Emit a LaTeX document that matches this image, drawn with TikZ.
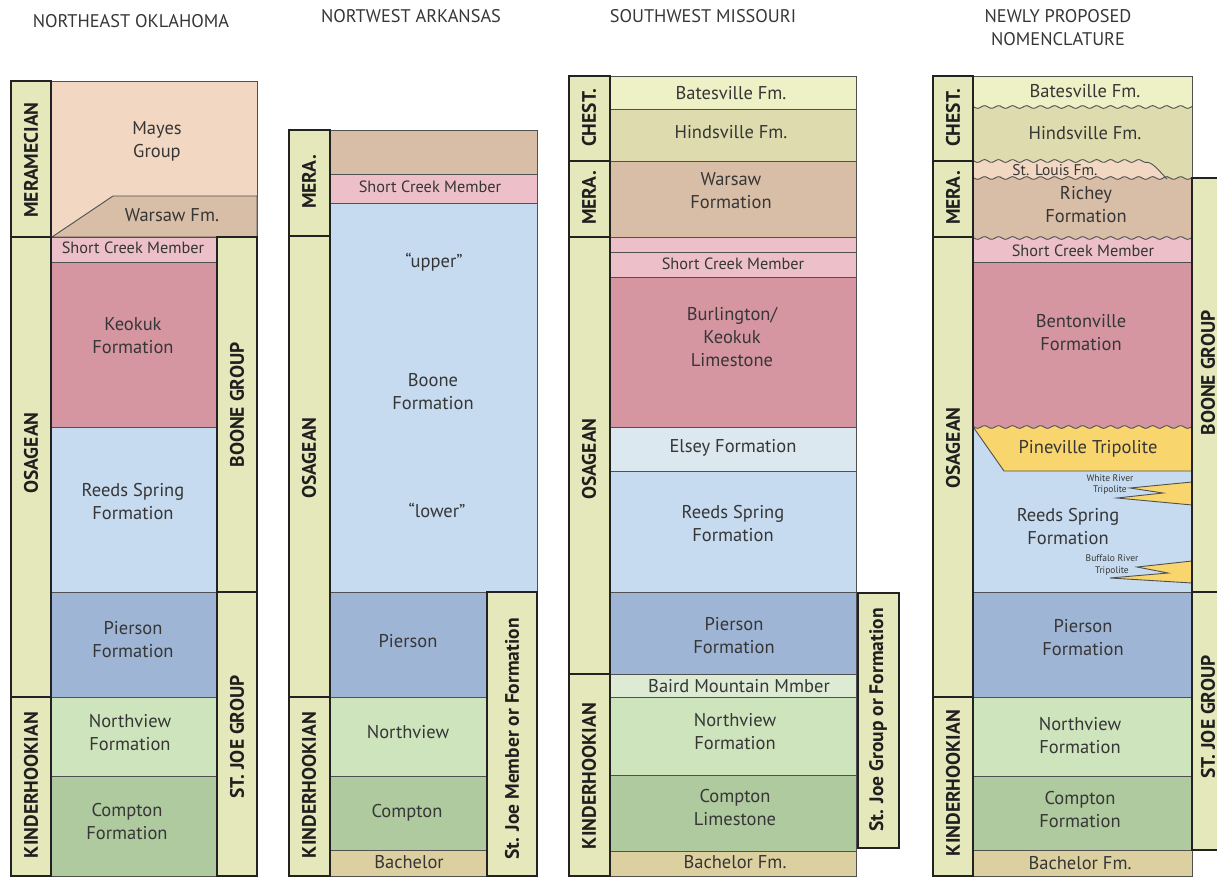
\documentclass[tikz,border=0pt]{standalone}
\usepackage{fontspec}
\setmainfont{PT Sans}
\definecolor{barfill}{HTML}{E5E8BB}
\definecolor{mayes}{HTML}{F2D8C3}
\definecolor{warsaw}{HTML}{D8BEA7}
\definecolor{shortc}{HTML}{EDBFC9}
\definecolor{keokuk}{HTML}{D596A2}
\definecolor{reeds}{HTML}{C6DBEF}
\definecolor{pierson}{HTML}{9FB5D5}
\definecolor{northv}{HTML}{CEE4BD}
\definecolor{compton}{HTML}{AECA9E}
\definecolor{bachelor}{HTML}{DDD0A0}
\definecolor{bates}{HTML}{EEF0C5}
\definecolor{hinds}{HTML}{DEDCAF}
\definecolor{elsey}{HTML}{DCE8F0}
\definecolor{baird}{HTML}{DDEBD5}
\definecolor{pine}{HTML}{F9D56E}
\definecolor{txt}{HTML}{363636}
\definecolor{linec}{HTML}{505050}
\definecolor{barline}{HTML}{222222}
\newcommand\lay[5]{\filldraw[lay,fill=#5] (#1,#3) rectangle (#2,#4);}
\newcommand\sbar[4]{\filldraw[sbarst] (#1,#3) rectangle (#2,#4);}
\tikzset{
  lay/.style={draw=linec,line width=0.9pt},
  sbarst/.style={draw=barline,line width=1.6pt,fill=barfill},
  lbl/.style={text=txt,font=\fontsize{18.5}{23}\selectfont,align=center,inner sep=0pt},
  sml/.style={text=txt,font=\fontsize{16.3}{19}\selectfont,inner sep=0pt},
  tiny/.style={text=txt,font=\fontsize{9.5}{11.5}\selectfont,align=center,inner sep=0pt},
  vlbl/.style={text=black!88,font=\bfseries\fontsize{19.5}{21}\selectfont,rotate=90,inner sep=0pt},
  hdr/.style={text=txt,font=\fontsize{18.3}{23}\selectfont,align=center,inner sep=0pt},
  wline/.style={draw=linec,line width=0.9pt},
  wvs/.style={samples=90,smooth}
}
\begin{document}
\begin{tikzpicture}[x=1pt,y=-1pt,declare function={wa(\t)=1.4*sin(25.7*(\t-960));}]
\useasboundingbox (0,0) rectangle (1217,877);
\clip (0,0) rectangle (1217,877);
% ---------------- Headers
\node[hdr] (h1) at (131,21) {NORTHEAST OKLAHOMA};
\node[hdr] (h2) at (411,16) {NORTWEST ARKANSAS};
\node[hdr] (h3) at (703,16) {SOUTHWEST MISSOURI};
\node[hdr] (h4) at (1058,28) {NEWLY PROPOSED\\NOMENCLATURE};

% ================= Column 1: NE Oklahoma
\lay{51}{257}{81}{237}{mayes}
\filldraw[lay,fill=warsaw] (52,237) -- (113,196) -- (257,196) -- (257,237) -- cycle;
\lay{51}{217}{237}{262}{shortc}
\lay{51}{217}{262}{427}{keokuk}
\lay{51}{217}{427}{592}{reeds}
\lay{51}{217}{592}{697}{pierson}
\lay{51}{217}{697}{776}{northv}
\lay{51}{217}{776}{876}{compton}
\sbar{11}{51}{81}{237}
\sbar{11}{51}{237}{697}
\sbar{11}{51}{697}{876}
\sbar{217}{257}{237}{592}
\sbar{217}{257}{592}{876}
\node[lbl] (mayes1) at (157,141) {Mayes\\Group};
\node[lbl] (warsaw1) at (172,215) {Warsaw Fm.};
\node[sml] (sc1) at (133,248) {Short Creek Member};
\node[lbl] (keo1) at (133,336) {Keokuk\\Formation};
\node[lbl] (rs1) at (133,502) {Reeds Spring\\Formation};
\node[lbl] (pie1) at (133,640) {Pierson\\Formation};
\node[lbl] (nv1) at (130,733) {Northview\\Formation};
\node[lbl] (cp1) at (127,822) {Compton\\Formation};
\node[vlbl] (mer1) at (31,160) {MERAMECIAN};
\node[vlbl] (osa1) at (31,453) {OSAGEAN};
\node[vlbl] (kin1) at (31,785) {KINDERHOOKIAN};
\node[vlbl] (boo1) at (237,405) {BOONE GROUP};
\node[vlbl] (stj1) at (237,737) {ST. JOE GROUP};

% ================= Column 2: NW Arkansas
\lay{330}{537}{130}{174}{warsaw}
\lay{330}{537}{174}{203}{shortc}
\lay{330}{537}{203}{592}{reeds}
\lay{330}{487}{592}{697}{pierson}
\lay{330}{487}{697}{776}{northv}
\lay{330}{487}{776}{850}{compton}
\lay{330}{487}{850}{876}{bachelor}
\sbar{289}{330}{130}{236}
\sbar{289}{330}{236}{697}
\sbar{289}{330}{697}{876}
\sbar{487}{537}{592}{876}
\node[sml] (sc2) at (430,187) {Short Creek Member};
\node[lbl] (up2) at (434,262) {“upper”};
\node[lbl] (bf2) at (433,392) {Boone\\Formation};
\node[lbl] (lo2) at (437,510) {“lower”};
\node[lbl] (pie2) at (408,641) {Pierson};
\node[lbl] (nv2) at (408,732) {Northview};
\node[lbl] (cp2) at (407,813) {Compton};
\node[lbl] (ba2) at (409,862) {Bachelor};
\node[vlbl] (mer2) at (309,182) {MERA.};
\node[vlbl] (osa2) at (309,458) {OSAGEAN};
\node[vlbl] (kin2) at (309,785) {KINDERHOOKIAN};
\node[vlbl] (stj2) at (512,739) {St. Joe Member or Formation};

% ================= Column 3: SW Missouri
\lay{610}{856}{76}{109}{bates}
\lay{610}{856}{109}{161}{hinds}
\lay{610}{856}{161}{237}{warsaw}
\lay{610}{856}{237}{252}{shortc}
\lay{610}{856}{252}{277}{shortc}
\lay{610}{856}{277}{427}{keokuk}
\lay{610}{856}{427}{471}{elsey}
\lay{610}{856}{471}{592}{reeds}
\lay{610}{856}{592}{674}{pierson}
\lay{610}{856}{674}{697}{baird}
\lay{610}{856}{697}{775}{northv}
\lay{610}{856}{775}{851}{compton}
\lay{610}{856}{851}{876}{bachelor}
\sbar{569}{610}{76}{161}
\sbar{569}{610}{161}{237}
\sbar{569}{610}{237}{674}
\sbar{569}{610}{674}{876}
\sbar{858}{899}{593}{848}
\node[lbl] (bat3) at (731,93) {Batesville Fm.};
\node[lbl] (hin3) at (731,132) {Hindsville Fm.};
\node[lbl] (war3) at (731,191) {Warsaw\\Formation};
\node[sml] (sc3) at (733,264) {Short Creek Member};
\node[lbl] (bur3) at (732,337) {Burlington/\\Keokuk\\Limestone};
\node[lbl] (els3) at (733,448) {Elsey Formation};
\node[lbl] (rs3) at (733,524) {Reeds Spring\\Formation};
\node[lbl] (pie3) at (734,636) {Pierson\\Formation};
\node[lbl] (bm3) at (739,686) {Baird Mountain Mmber};
\node[lbl] (nv3) at (735,732) {Northview\\Formation};
\node[lbl] (cp3) at (735,808) {Compton\\Limestone};
\node[lbl] (ba3) at (735,862) {Bachelor Fm.};
\node[vlbl] (che3) at (589,118) {CHEST.};
\node[vlbl] (mer3) at (589,198) {MERA.};
\node[vlbl] (osa3) at (589,459) {OSAGEAN};
\node[vlbl] (kin3) at (589,776) {KINDERHOOKIAN};
\node[vlbl] (stj3) at (878,720) {St. Joe Group or Formation};

% ================= Column 4: Newly proposed
\fill[bates] (973,76) rectangle (1192,112);
\fill[hinds] (973,190) -- plot[wvs,domain=973:1192] (\x,{107+wa(\x)}) -- (1192,190) -- cycle;
\fill[mayes] (973,190) -- plot[wvs,domain=973:1145] (\x,{161+wa(\x)}) .. controls (1152,161) and (1158,170) .. (1167,179) -- (1167,190) -- cycle;
\fill[warsaw] (973,245) -- plot[wvs,domain=973:1192] (\x,{178+wa(\x)}) -- (1192,245) -- cycle;
\fill[shortc] (973,262) -- plot[wvs,domain=973:1192] (\x,{238+wa(\x)}) -- (1192,262) -- cycle;
\fill[keokuk] (973,262) rectangle (1192,432);
\fill[reeds] (973,592) -- plot[wvs,domain=973:1192] (\x,{427+wa(\x)}) -- (1192,592) -- cycle;
\fill[pine] (1004,471) -- plot[wvs,domain=973:1192] (\x,{427+wa(\x)}) -- (1192,471) -- cycle;
\draw[wline] (973.5,427.5) -- (1004,471) -- (1192,471);
% tongues
\filldraw[wline,fill=pine] (1192,482) -- (1130,488) -- (1163,493) -- (1117,498) -- (1192,505);
\filldraw[wline,fill=pine] (1192,561) -- (1137,567) -- (1168,573) -- (1110,578) -- (1192,583);
% wavy lines
\draw[wline] plot[wvs,domain=973:1192] (\x,{107+wa(\x)});
\draw[wline] plot[wvs,domain=973:1145] (\x,{161+wa(\x)}) .. controls (1152,161) and (1158,170) .. (1167,179);
\draw[wline] plot[wvs,domain=973:1192] (\x,{178+wa(\x)});
\draw[wline] plot[wvs,domain=973:1192] (\x,{238+wa(\x)});
\draw[wline] plot[wvs,domain=973:1192] (\x,{427+wa(\x)});
\draw[wline] (973,262) -- (1192,262);
\draw[wline] (973,76) -- (1192,76) -- (1192,592);
\lay{973}{1192}{592}{697}{pierson}
\lay{973}{1192}{697}{776}{northv}
\lay{973}{1192}{776}{850}{compton}
\lay{973}{1192}{850}{876}{bachelor}
\sbar{933}{973}{76}{161}
\sbar{933}{973}{161}{237}
\sbar{933}{973}{237}{697}
\sbar{933}{973}{697}{876}
\sbar{1192}{1235}{178}{592}
\sbar{1192}{1235}{592}{850}
\node[lbl] (bat4) at (1085,91) {Batesville Fm.};
\node[lbl] (hin4) at (1085,133) {Hindsville Fm.};
\node[sml,font=\fontsize{15.5}{17}\selectfont] (stl4) at (1055,170) {St. Louis Fm.};
\node[lbl] (ric4) at (1086,205) {Richey\\Formation};
\node[sml] (sc4) at (1083,251) {Short Creek Member};
\node[lbl] (ben4) at (1081,333) {Bentonville\\Formation};
\node[lbl] (pin4) at (1088,449) {Pineville Tripolite};
\node[tiny] (wr4) at (1110,484.5) {White River\\Tripolite};
\node[tiny] (br4) at (1112,565) {Buffalo River\\Tripolite};
\node[lbl] (rs4) at (1068,527) {Reeds Spring\\Formation};
\node[lbl] (pie4) at (1083,638) {Pierson\\Formation};
\node[lbl] (nv4) at (1080,736) {Northview\\Formation};
\node[lbl] (cp4) at (1080,810) {Compton\\Formation};
\node[lbl] (ba4) at (1080,863) {Bachelor Fm.};
\node[vlbl] (che4) at (953,118) {CHEST.};
\node[vlbl] (mer4) at (953,198) {MERA.};
\node[vlbl] (osa4) at (953,448) {OSAGEAN};
\node[vlbl] (kin4) at (953,783) {KINDERHOOKIAN};
\node[vlbl] (boo4) at (1208,373) {BOONE GROUP};
\node[vlbl] (stj4) at (1208,717) {ST. JOE GROUP};
\end{tikzpicture}
\end{document}
